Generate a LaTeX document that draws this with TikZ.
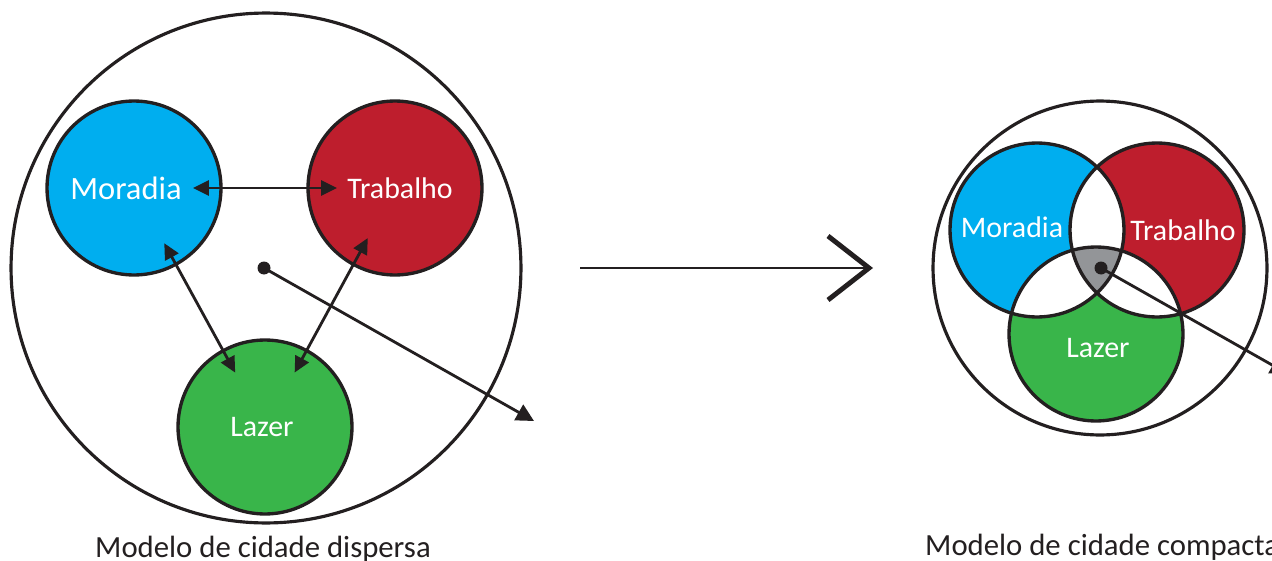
\documentclass[tikz,border=0pt]{standalone}
\usepackage{fontspec}
\setmainfont{Carlito}
\usetikzlibrary{arrows.meta}
\definecolor{moradiablue}{HTML}{00AEEF}
\definecolor{trabalhored}{HTML}{BE1E2D}
\definecolor{lazergreen}{HTML}{39B54A}
\definecolor{centergray}{HTML}{939598}
\definecolor{ink}{HTML}{231F20}

\begin{document}
\begin{tikzpicture}
        [
            x=0.02cm, y=-0.02cm,
            zone/.style={
                circle,
                draw=ink,
                line width=1.9pt,
                minimum size=3.48cm,
                inner sep=0pt,
                text=white,
                font=\fontsize{17}{20}\selectfont
            },
            city/.style={
                circle,
                draw=ink,
                line width=1.8pt,
                inner sep=0pt
            },
            zonelabel/.style={
                text=white,
                font=\fontsize{17}{20}\selectfont
            },
            caption/.style={
                text=ink,
                font=\fontsize{17.5}{20}\selectfont
            },
            link/.style={
                draw=ink,
                line width=1.6pt,
                {Triangle[length=9pt,width=8.5pt]}-{Triangle[length=9pt,width=8.5pt]}
            },
            reach/.style={
                draw=ink,
                line width=1.6pt,
                -{Triangle[length=10pt,width=10pt]}
            },
            spot/.style={
                circle,
                fill=ink,
                minimum size=0.26cm,
                inner sep=0pt
            }
         ]
        \clip (0,0) rectangle (1272,561);

        % modelo disperso
        \node[city, minimum size=10.2cm] (dispersa) at (266,268) {};
        \node[zone, fill=moradiablue] (moradia) at (134,188) {};
        \node[zone, fill=trabalhored] (trabalho) at (395,188) {};
        \node[zone, fill=lazergreen] (lazer) at (265,427) {};
        \node[zonelabel, font=\fontsize{18.5}{20}\selectfont] at (126,188) {Moradia};
        \node[zonelabel] at (400,188) {Trabalho};
        \node[zonelabel] at (262,427) {Lazer};
        \node[spot] (centro) at (264,268) {};
        \coordinate (alcance) at (534,421);

        \draw[link, shorten <=1.18cm, shorten >=1.16cm] (moradia.center) -- (trabalho.center);
        \draw[link, shorten <=1.26cm, shorten >=1.24cm] (moradia.center) -- (lazer.center);
        \draw[link, shorten <=1.14cm, shorten >=1.24cm] (trabalho.center) -- (lazer.center);
        \draw[reach] (centro.center) -- (alcance);

        \node[caption] (legenda dispersa) at (263,549) {Modelo de cidade dispersa};

        % passagem
        \coordinate (de) at (580,268);
        \coordinate (para) at (873,268);
        \draw[ink, line width=1.5pt, -{Straight Barb[length=0.82cm, width=1.28cm, line width=2.8pt]}] (de) -- (para);

        % modelo compacto
        \coordinate (vm) at (1037,230);
        \coordinate (vt) at (1157,230);
        \coordinate (vl) at (1096,334);
        \node[city, minimum size=6.68cm] (compacta) at (1100,268) {};
        \fill[moradiablue] (vm) circle (1.74cm);
        \fill[trabalhored] (vt) circle (1.74cm);
        \fill[lazergreen] (vl) circle (1.74cm);
        \begin{scope}
            \clip (vm) circle (1.74cm);
            \fill[white] (vt) circle (1.74cm);
            \fill[white] (vl) circle (1.74cm);
        \end{scope}
        \begin{scope}
            \clip (vt) circle (1.74cm);
            \fill[white] (vl) circle (1.74cm);
        \end{scope}
        \begin{scope}
            \clip (vm) circle (1.74cm);
            \clip (vt) circle (1.74cm);
            \fill[centergray] (vl) circle (1.74cm);
        \end{scope}
        \node[zone] (moradia compacta) at (vm) {};
        \node[zone] (trabalho compacta) at (vt) {};
        \node[zone] (lazer compacta) at (vl) {};
        \node[zonelabel] at (1012,227) {Moradia};
        \node[zonelabel] at (1183,230) {Trabalho};
        \node[zonelabel] at (1098,348) {Lazer};
        \node[spot] (centro compacta) at (1101,268) {};
        \coordinate (alcance compacta) at (1288,374);
        \draw[reach] (centro compacta.center) -- (alcance compacta);

        \node[caption, anchor=west] (legenda compacta) at (919,547) {Modelo de cidade compacta};
\end{tikzpicture}
\end{document}
